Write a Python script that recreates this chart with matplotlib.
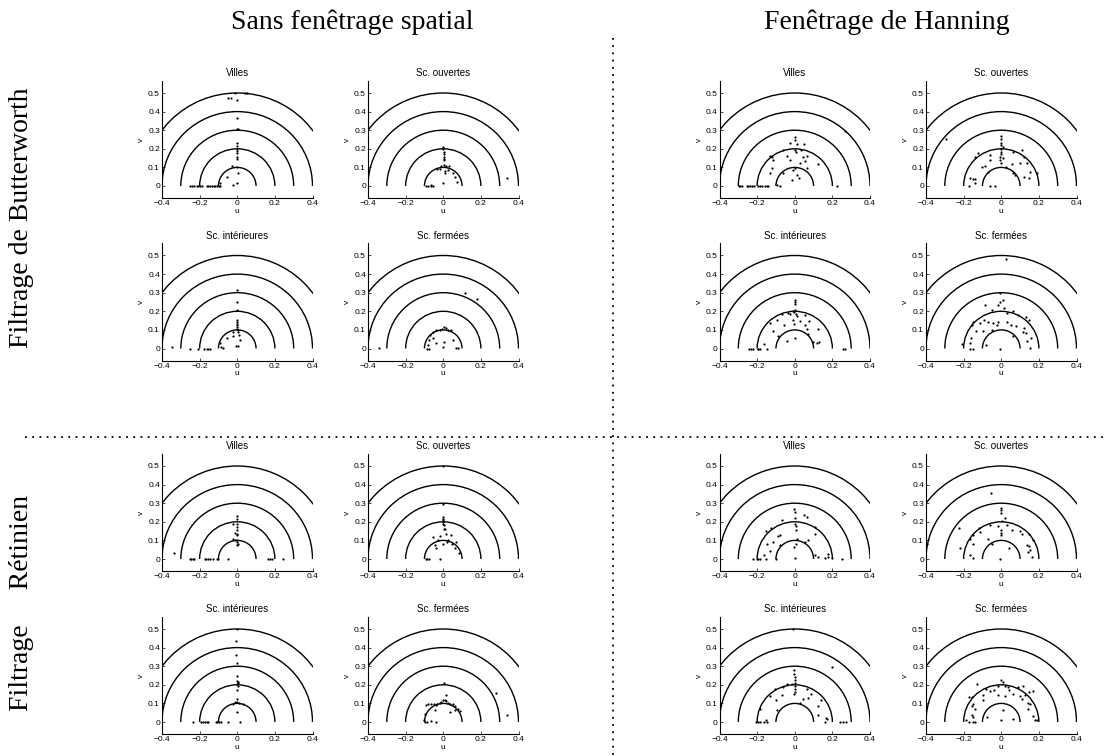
import matplotlib
matplotlib.use("Agg")
import matplotlib.pyplot as plt
from matplotlib.patches import Arc
from matplotlib.lines import Line2D

# ---------------- text ----------------
col_titles = ["Sans fenêtrage spatial", "Fenêtrage de Hanning"]
row_titles = ["Filtrage de Butterworth", "Filtrage     Rétinien"]
scene_titles = ["Villes", "Sc. ouvertes", "Sc. intérieures", "Sc. fermées"]
radii = [0.1, 0.2, 0.3, 0.4, 0.5]
xticks = [-0.4, -0.2, 0, 0.2, 0.4]
xtick_labels = ["\u22120.4", "\u22120.2", "0", "0.2", "0.4"]
yticks = [0, 0.1, 0.2, 0.3, 0.4, 0.5]
ytick_labels = ["0", "0.1", "0.2", "0.3", "0.4", "0.5"]

# ---------------- data: Butterworth, no window ----------------
bn_villes_u = [-0.047, -0.034, -0.003, -0.01, 0.04, 0.054, 0.0, 0.0, 0.004, 0.0, 0.0, 0.0, 0.0, 0.0, 0.0, 0.0,
               -0.03, 0.0, 0.005, -0.054, 0.0, -0.024, -0.25, -0.24, -0.232, -0.215, -0.206, -0.197, -0.188,
               -0.162, -0.153, -0.144, -0.135, -0.126, -0.118, -0.105, -0.098, -0.091, -0.091]
bn_villes_v = [0.475, 0.471, 0.462, 0.5, 0.5, 0.5, 0.364, 0.305, 0.308, 0.23, 0.215, 0.2, 0.19, 0.175, 0.158, 0.143,
               0.107, 0.1, 0.068, 0.05, 0.018, 0.004, 0.0, 0.0, 0.0, 0.0, 0.0, 0.0, 0.0,
               0.0, 0.0, 0.0, 0.0, 0.0, 0.0, 0.0, 0.0, 0.0, 0.014]

bn_ouvertes_u = [0.0, 0.0, 0.002, 0.002, 0.004, 0.002, 0.005, -0.011, 0.002, 0.016, 0.03, -0.034, -0.016, 0.009,
                 0.027, 0.007, 0.051, 0.065, 0.073, -0.002, -0.094, -0.081, -0.064, -0.055, -0.064, 0.34]
bn_ouvertes_v = [0.208, 0.197, 0.185, 0.17, 0.158, 0.145, 0.14, 0.107, 0.111, 0.107, 0.107, 0.09, 0.09, 0.08,
                 0.086, 0.068, 0.072, 0.047, 0.023, 0.014, 0.0, 0.0, 0.0, 0.0, 0.004, 0.043]

bn_interieures_u = [0.0, 0.0, 0.0, 0.0, 0.0, 0.0, 0.0, 0.0, -0.002, 0.002, 0.003, -0.02, 0.01, -0.052, -0.024, 0.015,
                    -0.008, 0.003, -0.077, -0.091, -0.087, -0.347, -0.25, -0.206, -0.179, -0.161, -0.153, -0.144]
bn_interieures_v = [0.3125, 0.25, 0.205, 0.152, 0.143, 0.134, 0.125, 0.116, 0.104, 0.098, 0.089, 0.089, 0.071, 0.054,
                    0.066, 0.045, 0.0125, 0.0125, 0.005, 0.027, 0.009, 0.007, 0.0, 0.0, 0.0, 0.0, 0.0, 0.0]

bn_fermees_u = [0.118, 0.178, -0.341, -0.055, -0.037, -0.019, -0.005, 0.002, 0.012, 0.025, 0.042, -0.072, -0.076,
                -0.081, -0.087, -0.076, -0.037, 0.002, -0.002, 0.069, 0.078, 0.051, -0.055]
bn_fermees_v = [0.298, 0.268, 0.004, 0.089, 0.098, 0.102, 0.107, 0.113, 0.111, 0.102, 0.098, 0.071, 0.045,
                0.018, 0.0, 0.0, 0.027, 0.036, 0.009, 0.004, 0.004, 0.045, 0.054]

# ---------------- data: Butterworth, Hanning ----------------
bh_villes_u = [0.0, 0.0, -0.025, 0.011, 0.051, -0.06, 0.0, 0.007, 0.032, -0.131, -0.122, -0.042, 0.046, 0.064,
               -0.113, -0.025, 0.055, 0.028, 0.126, -0.122, 0.0, 0.064, -0.131, -0.06, -0.007, 0.011, 0.025,
               -0.016, -0.096, -0.081, -0.299, -0.29, -0.281, -0.255, -0.246, -0.237, -0.228, -0.219, -0.193,
               -0.184, -0.175, -0.158, -0.149, -0.14, 0.223, 0.267]
bh_villes_v = [0.265, 0.247, 0.229, 0.226, 0.226, 0.194, 0.194, 0.185, 0.194, 0.161, 0.158, 0.163, 0.158, 0.163,
               0.14, 0.14, 0.136, 0.122, 0.116, 0.095, 0.095, 0.095, 0.068, 0.068, 0.086, 0.059, 0.041,
               0.032, 0.005, 0.002, 0.0, 0.0, 0.0, 0.0, 0.0, 0.0, 0.0, 0.0, 0.0,
               0.0, 0.0, 0.0, 0.0, 0.0, 0.0, 0.296]

bh_ouvertes_u = [-0.294, 0.0, 0.0, 0.0, -0.002, 0.007, 0.0, 0.0, 0.0, -0.007, 0.007, -0.007, 0.0, -0.126, -0.14,
                 -0.06, -0.06, -0.087, -0.104, 0.06, 0.108, 0.122, 0.135, 0.099, 0.055, 0.025, 0.152, 0.188,
                 0.122, 0.073, 0.06, -0.166, -0.152, -0.14, -0.14, -0.172, -0.06, -0.032, -0.069, 0.149]
bh_ouvertes_v = [0.251, 0.269, 0.251, 0.233, 0.22, 0.208, 0.197, 0.185, 0.17, 0.158, 0.149, 0.14, 0.122, 0.179, 0.154,
                 0.167, 0.14, 0.108, 0.1, 0.183, 0.194, 0.158, 0.122, 0.125, 0.118, 0.1, 0.073, 0.072,
                 0.047, 0.059, 0.072, 0.041, 0.039, 0.036, 0.018, 0.0, 0.0, 0.0, 0.077, 0.041]

bh_interieures_u = [0.0, 0.0, 0.0, -0.011, 0.0, -0.004, 0.004, -0.025, -0.035, 0.055, -0.069, 0.011, -0.092, -0.007,
                    -0.131, 0.028, -0.113, -0.055, -0.004, 0.055, 0.078, 0.126, 0.064, -0.087, 0.073, -0.042,
                    0.002, 0.096, 0.117, 0.131, -0.163, -0.242, -0.234, -0.22, -0.198, -0.193, -0.184, -0.145,
                    0.258, 0.267]
bh_interieures_v = [0.261, 0.252, 0.241, 0.202, 0.207, 0.195, 0.188, 0.184, 0.19, 0.181, 0.184, 0.177, 0.154, 0.154,
                    0.137, 0.149, 0.096, 0.128, 0.131, 0.128, 0.149, 0.106, 0.106, 0.066, 0.078, 0.039,
                    0.057, 0.035, 0.03, 0.035, 0.025, 0.0, 0.0, 0.0, 0.0, 0.0, 0.0, 0.0,
                    0.0, 0.0]

bh_fermees_u = [0.025, -0.007, -0.007, 0.007, -0.016, -0.087, -0.051, 0.014, 0.028, 0.064, 0.09, 0.131, 0.149,
                -0.152, -0.158, -0.113, -0.092, -0.069, -0.042, -0.016, 0.028, 0.05, 0.078, 0.12, 0.117, 0.131,
                -0.135, -0.096, -0.051, -0.025, -0.163, -0.166, -0.21, -0.166, -0.152, -0.081, -0.007, 0.06,
                0.135, 0.152, 0.156]
bh_fermees_v = [0.482, 0.3, 0.252, 0.26, 0.234, 0.234, 0.207, 0.216, 0.19, 0.199, 0.181, 0.172, 0.154,
                0.14, 0.128, 0.137, 0.154, 0.145, 0.137, 0.145, 0.145, 0.128, 0.119, 0.11, 0.087, 0.083,
                0.092, 0.096, 0.101, 0.128, 0.057, 0.03, 0.025, 0.0, 0.0, 0.018, 0.0, 0.066,
                0.039, 0.004, 0.057]

# ---------------- data: Retinal, no window ----------------
rn_villes_u = [0.0, 0.0, 0.0, 0.0, 0.0, 0.0, 0.0, -0.011, -0.02, 0.0, -0.011, 0.0, 0.0, 0.006, -0.02, -0.338,
               -0.253, -0.246, -0.235, -0.228, -0.171, -0.166, -0.153, -0.144, -0.13, -0.109, -0.1, -0.047,
               0.165, 0.174, 0.183, 0.241]
rn_villes_v = [0.229, 0.216, 0.19, 0.172, 0.154, 0.137, 0.128, 0.142, 0.19, 0.101, 0.101, 0.089, 0.074, 0.083, 0.11,
               0.03, 0.0, 0.0, 0.0, 0.0, 0.0, 0.0, 0.0, 0.0, 0.0, 0.0, 0.0, 0.0,
               0.0, 0.0, 0.0, 0.0]

rn_ouvertes_u = [0.0, 0.0, 0.0, 0.0, 0.0, 0.0, 0.0, 0.002, 0.004, 0.007, -0.055, -0.019, 0.016, 0.042, 0.025,
                 -0.028, -0.046, -0.037, 0.048, 0.06, 0.083, 0.0, 0.019, -0.087, -0.094, -0.076, -0.019, 0.069]
rn_ouvertes_v = [0.5, 0.296, 0.225, 0.216, 0.207, 0.199, 0.19, 0.181, 0.163, 0.16, 0.119, 0.124, 0.137, 0.128, 0.101,
                 0.101, 0.074, 0.057, 0.078, 0.057, 0.03, 0.083, 0.089, 0.0, 0.0, 0.0, 0.0, 0.089]

rn_interieures_u = [0.0, -0.006, -0.006, 0.0, 0.0, 0.0, 0.002, 0.002, 0.0, 0.002, 0.0, 0.0, -0.011, 0.0, 0.011,
                    -0.024, 0.029, 0.0, 0.015, -0.236, -0.193, -0.183, -0.171, -0.162, -0.153, -0.112, -0.105,
                    -0.096, -0.087, -0.047]
rn_interieures_v = [0.5, 0.434, 0.361, 0.316, 0.25, 0.223, 0.214, 0.209, 0.202, 0.195, 0.17, 0.125, 0.107, 0.107,
                    0.102, 0.098, 0.098, 0.054, 0.0, 0.0, 0.0, 0.0, 0.0, 0.0, 0.0, 0.0, 0.0,
                    0.0, 0.0, 0.0]

rn_fermees_u = [0.002, 0.016, 0.281, 0.338, -0.09, -0.081, -0.064, -0.051, -0.041, -0.032, -0.019, -0.011, -0.002,
                0.007, 0.016, 0.025, 0.034, 0.051, 0.065, 0.078, 0.087, -0.099, -0.104, -0.097, -0.087, -0.064,
                -0.037, 0.034, 0.065, -0.046]
rn_fermees_v = [0.209, 0.143, 0.155, 0.036, 0.089, 0.095, 0.098, 0.095, 0.089, 0.098, 0.102, 0.107, 0.12,
                0.116, 0.112, 0.102, 0.098, 0.095, 0.084, 0.071, 0.059, 0.045, 0.009, 0.0, 0.0, 0.005,
                0.0, 0.054, 0.063, 0.066]

# ---------------- data: Retinal, Hanning ----------------
rh_villes_u = [-0.004, 0.0, 0.0, 0.0, 0.004, 0.007, 0.05, 0.064, -0.069, -0.127, -0.152, -0.078, -0.087, -0.145,
               -0.113, -0.078, -0.131, 0.011, 0.007, -0.004, 0.055, 0.073, 0.106, 0.106, 0.0, -0.163, -0.152,
               -0.223, -0.202, -0.193, -0.184, -0.099, 0.108, 0.126, 0.161, 0.179, 0.175, 0.196, 0.25]
rh_villes_v = [0.27, 0.252, 0.22, 0.19, 0.177, 0.154, 0.234, 0.225, 0.207, 0.167, 0.149, 0.128, 0.124, 0.083,
               0.089, 0.074, 0.043, 0.11, 0.083, 0.066, 0.089, 0.101, 0.172, 0.137, 0.004, 0.021, 0.0,
               0.0, 0.0, 0.0, 0.0, 0.0, 0.021, 0.012, 0.004, 0.012, 0.025, 0.004, 0.0]

rh_ouvertes_u = [-0.055, 0.0, 0.0, 0.0, 0.02, 0.002, -0.016, -0.06, -0.117, -0.223, 0.0, 0.0, 0.0, 0.028, 0.055,
                 0.099, 0.108, 0.149, 0.17, -0.113, -0.149, -0.166, -0.149, -0.073, -0.051, 0.042, 0.135, 0.149,
                 0.143, 0.161, 0.152, -0.219, -0.166, -0.152, -0.004, -0.393]
rh_ouvertes_v = [0.355, 0.273, 0.261, 0.248, 0.22, 0.202, 0.177, 0.181, 0.167, 0.167, 0.154, 0.142, 0.128, 0.181, 0.154,
                 0.149, 0.137, 0.137, 0.101, 0.145, 0.128, 0.11, 0.083, 0.106, 0.078, 0.06, 0.074, 0.071,
                 0.039, 0.012, 0.048, 0.057, 0.021, 0.004, 0.0, 0.083]

rh_interieures_u = [-0.011, 0.196, -0.004, -0.002, 0.0, 0.0, 0.0, 0.0, 0.0, 0.0, -0.002, -0.016, -0.042, -0.064,
                    -0.104, -0.131, -0.099, -0.069, 0.064, 0.085, 0.046, 0.073, 0.14, 0.126, 0.028, -0.096, -0.184,
                    0.122, 0.166, 0.173, 0.161, -0.207, -0.198, -0.184, -0.163, -0.145, -0.152, 0.241, 0.255, 0.273]
rh_interieures_v = [0.5, 0.295, 0.277, 0.259, 0.241, 0.227, 0.209, 0.196, 0.179, 0.161, 0.148, 0.205, 0.202, 0.188,
                    0.179, 0.138, 0.116, 0.143, 0.179, 0.152, 0.125, 0.13, 0.116, 0.084, 0.102, 0.063, 0.071,
                    0.036, 0.023, 0.018, 0.0, 0.0, 0.0, 0.0, 0.0, 0.0, 0.013, 0.0, 0.0, 0.0]

rh_fermees_u = [0.0, -0.127, -0.016, 0.011, 0.019, 0.037, 0.09, 0.117, 0.17, 0.149, -0.081, -0.06, -0.039, -0.17,
                -0.158, -0.096, -0.016, 0.019, 0.06, 0.099, 0.108, 0.126, 0.143, 0.152, -0.096, -0.149, -0.158,
                -0.14, 0.011, -0.078, -0.158, -0.149, -0.188, -0.17, -0.152, -0.14, -0.002, 0.064, 0.17, 0.179,
                0.188, 0.143, 0.042]
rh_fermees_v = [0.227, 0.205, 0.196, 0.214, 0.196, 0.188, 0.188, 0.196, 0.166, 0.161, 0.179, 0.164, 0.17, 0.134,
                0.134, 0.143, 0.143, 0.138, 0.148, 0.138, 0.125, 0.143, 0.102, 0.095, 0.116, 0.098, 0.084,
                0.071, 0.063, 0.027, 0.036, 0.027, 0.013, 0.0, 0.0, 0.0, 0.009, 0.018, 0.03, 0.009,
                0.009, 0.071, 0.17]

panels = {
    (0, 0): [(bn_villes_u, bn_villes_v), (bn_ouvertes_u, bn_ouvertes_v),
             (bn_interieures_u, bn_interieures_v), (bn_fermees_u, bn_fermees_v)],
    (0, 1): [(bh_villes_u, bh_villes_v), (bh_ouvertes_u, bh_ouvertes_v),
             (bh_interieures_u, bh_interieures_v), (bh_fermees_u, bh_fermees_v)],
    (1, 0): [(rn_villes_u, rn_villes_v), (rn_ouvertes_u, rn_ouvertes_v),
             (rn_interieures_u, rn_interieures_v), (rn_fermees_u, rn_fermees_v)],
    (1, 1): [(rh_villes_u, rh_villes_v), (rh_ouvertes_u, rh_ouvertes_v),
             (rh_interieures_u, rh_interieures_v), (rh_fermees_u, rh_fermees_v)],
}

# ---------------- layout (pixels) ----------------
W, H = 1108, 756
fig = plt.figure(figsize=(W / 100, H / 100), dpi=100)
col_left_px = [162, 368, 719.5, 926]      # pixel position of u = -0.4
row_zero_px = [186, 348.5, 559, 722]      # pixel position of v = 0
px_per_unit_y = 186.0
ylo, yhi = -0.065, 0.565
ax_w = 150.5
ax_h = (yhi - ylo) * px_per_unit_y

tick_font = dict(family="Liberation Sans", size=6)

for (qr, qc), series in panels.items():
    for k, (u, v) in enumerate(series):
        r = qr * 2 + k // 2
        c = qc * 2 + k % 2
        left = col_left_px[c]
        bottom_px = row_zero_px[r] - ylo * px_per_unit_y
        ax = fig.add_axes([left / W, 1 - bottom_px / H, ax_w / W, ax_h / H])
        for rad in radii:
            ax.add_patch(Arc((0, 0), 2 * rad, 2 * rad, theta1=0, theta2=180,
                             color="black", lw=1.0))
        ax.plot(u, v, "o", color="black", ms=1.6, mew=0)
        ax.set_xlim(-0.4, 0.4)
        ax.set_ylim(ylo, yhi)
        ax.spines["top"].set_visible(False)
        ax.spines["right"].set_visible(False)
        ax.spines["left"].set_linewidth(0.8)
        ax.spines["bottom"].set_linewidth(0.8)
        ax.set_xticks(xticks)
        ax.set_xticklabels(xtick_labels, **tick_font)
        ax.set_yticks(yticks)
        ax.set_yticklabels(ytick_labels, **tick_font)
        ax.tick_params(direction="in", length=2, width=0.5, pad=1.5)
        ax.set_xlabel("u", fontsize=6, family="Liberation Sans", labelpad=0.5)
        ax.set_ylabel("v", fontsize=6, family="Liberation Sans", labelpad=2)
        ax.set_title(scene_titles[k], fontsize=7, family="Liberation Sans", pad=3.5)

# big headings
serif = "Liberation Serif"
fig.text(352 / W, 1 - 22 / H, col_titles[0], ha="center", va="center", fontsize=20, family=serif)
fig.text(887 / W, 1 - 22 / H, col_titles[1], ha="center", va="center", fontsize=20, family=serif)
fig.text(22 / W, 1 - 218 / H, row_titles[0], ha="center", va="center", rotation=90, fontsize=20, family=serif)
fig.text(22 / W, 1 - 603 / H, row_titles[1], ha="center", va="center", rotation=90, fontsize=20, family=serif)

# dotted separators
fig.add_artist(Line2D([613 / W, 613 / W], [1 - 38 / H, 0], transform=fig.transFigure,
                      color="black", lw=1.3, linestyle=(0, (1, 3))))
fig.add_artist(Line2D([25 / W, 1], [1 - 437 / H, 1 - 437 / H], transform=fig.transFigure,
                      color="black", lw=1.3, linestyle=(0, (1, 3))))

fig.savefig("out.png", dpi=100)
